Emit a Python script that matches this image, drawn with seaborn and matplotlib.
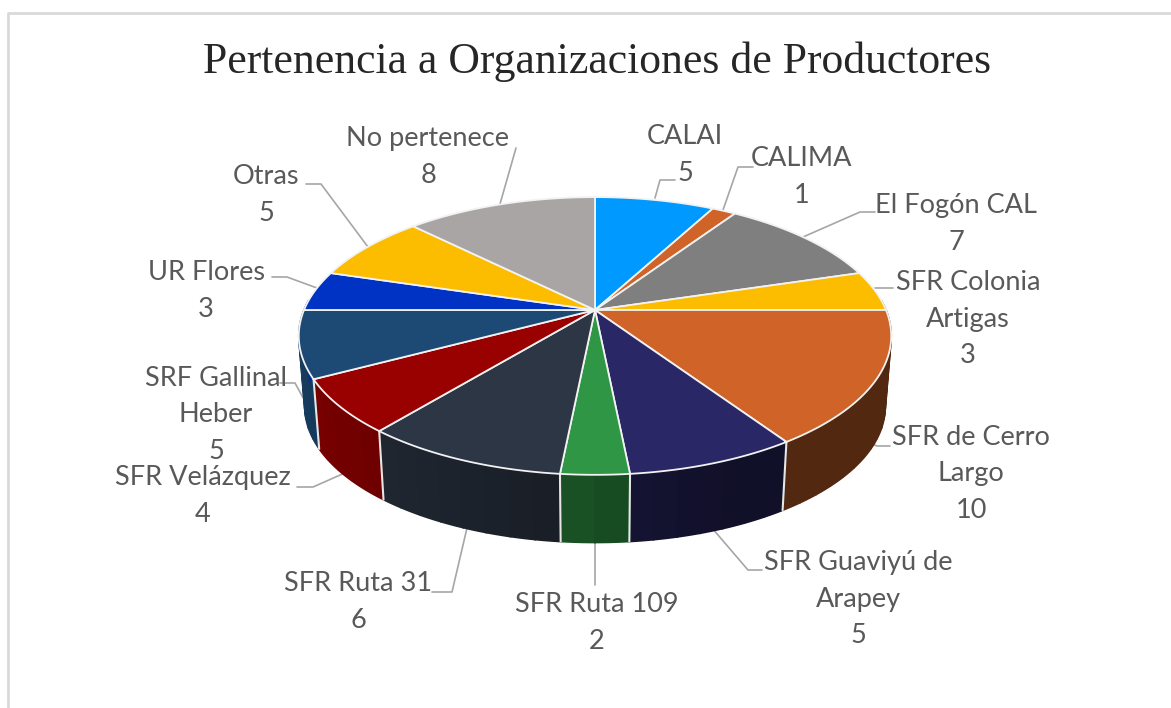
import numpy as np
import matplotlib
matplotlib.use('Agg')
import matplotlib.pyplot as plt
import seaborn as sns

# Data
names = ['CALAI', 'CALIMA', 'El Fogón CAL', 'SFR Colonia\nArtigas', 'SFR de Cerro\nLargo',
         'SFR Guaviyú de\nArapey', 'SFR Ruta 109', 'SFR Ruta 31', 'SFR Velázquez',
         'SRF Gallinal\nHeber', 'UR Flores', 'Otras', 'No pertenece']
values = [5, 1, 7, 3, 10, 5, 2, 6, 4, 5, 3, 5, 8]
title = 'Pertenencia a Organizaciones de Productores'

hex_colors = ['#0099ff', '#d06428', '#7f7f7f', '#fcbc00', '#d06428', '#2a2766', '#2e9644',
              '#2d3645', '#990000', '#1c4a75', '#0033c4', '#fcbc00', '#a9a5a4']

# label centres and leader lines, in pixels of the picture
label_pos = [(685, 155), (802, 177), (956, 224), (968, 319), (971, 474), (858, 599), (597, 623),
             (358, 602), (203, 496), (216, 415), (206, 291), (266, 195), (428, 157)]
leaders = [[(655, 198), (660, 180), (675, 180)],
           [(723, 210), (738, 167), (753, 167)],
           [(803, 237), (860, 212), (875, 212)],
           [(875, 288), (893, 288)],
           [(870, 443), (877, 446), (890, 446)],
           [(712, 528), (748, 570), (762, 570)],
           [(595, 543), (595, 585)],
           [(467, 528), (452, 592), (432, 592)],
           [(347, 472), (313, 487), (297, 487)],
           [(307, 405), (295, 383), (280, 383)],
           [(317, 288), (287, 277), (272, 277)],
           [(368, 247), (321, 184), (306, 184)],
           [(500, 204), (516, 148)]]

sns.set_style('white')
plt.rcParams['font.family'] = ['Lato', 'DejaVu Sans']
palette = sns.color_palette(hex_colors)

# pie geometry
cx, cy = 595, 310
a, b, k = 291, 134, 0.187
shrink, drop = 0.98, 71


def rim(theta):
    # theta in degrees as matplotlib gives it, perspective applied to the unit circle
    u = np.cos(np.radians(theta))
    v = -np.sin(np.radians(theta))
    w = 1 - k * v
    return cx + a * u / w, cy + b * v / w, u


def base(theta):
    x, y, u = rim(theta)
    return cx + (x - cx) * shrink, cy + (y - cy) * shrink + drop


fig = plt.figure(figsize=(11.71, 7.08), dpi=100)

# the wedges come from a normal pie, on hidden axes, then get tilted
helper = fig.add_axes([0, 0, 0.1, 0.1])
wedges, _ = helper.pie(values, startangle=90, counterclock=False, colors=palette)
angles = [(w.theta1, w.theta2) for w in wedges]
helper.set_visible(False)

ax = fig.add_axes([0, 0, 1, 1])
ax.set_xlim(0, 1171)
ax.set_ylim(708, 0)
ax.axis('off')

# chart frame
ax.plot([8, 8, 1171], [708, 13, 13], color='#d9d9d9', lw=2, zorder=1)

# side wall, cut in strips so the shade changes along the rim
for (t1, t2), col in zip(angles, palette):
    steps = max(int((t2 - t1) / 4), 1)
    ts = np.linspace(t1, t2, steps + 1)
    for s0, s1 in zip(ts[:-1], ts[1:]):
        mid = rim((s0 + s1) / 2)
        if mid[1] < cy - 5:
            continue
        shade = np.clip(0.52 - 0.3 * mid[2], 0.4, 0.85)
        strip = np.linspace(s0, s1, 6)
        xs = list(rim(strip)[0]) + list(base(strip[::-1])[0])
        ys = list(rim(strip)[1]) + list(base(strip[::-1])[1])
        c = tuple(np.array(col) * shade)
        ax.fill(xs, ys, color=c, lw=1.2, zorder=2)

# white lines between the wall pieces
for t1, t2 in angles:
    x0, y0, _ = rim(t2)
    if y0 > cy + 50:
        x1, y1 = base(t2)
        ax.plot([x0, x1], [y0, y1], color='#e6e6e6', lw=1.5, zorder=3)

# top face
for (t1, t2), col in zip(angles, palette):
    ts = np.linspace(t1, t2, 80)
    xs = [cx] + list(rim(ts)[0])
    ys = [cy] + list(rim(ts)[1])
    ax.fill(xs, ys, facecolor=col, edgecolor='#f2f2f2', lw=1.3, joinstyle='round', zorder=4)

# leader lines
for pts in leaders:
    ax.plot([p[0] for p in pts], [p[1] for p in pts], color='#a6a6a6', lw=1.2, zorder=1.5)

# labels
for name, val, pos in zip(names, values, label_pos):
    ax.text(pos[0], pos[1], f'{name}\n{val}', ha='center', va='center', ma='center',
            fontsize=19.5, color='#595959', linespacing=1.56, zorder=5)

ax.text(597, 62, title, ha='center', va='center', fontsize=31.5,
        family=['Liberation Serif', 'DejaVu Serif'], color='#262626')

fig.savefig('out.png', dpi=100)
